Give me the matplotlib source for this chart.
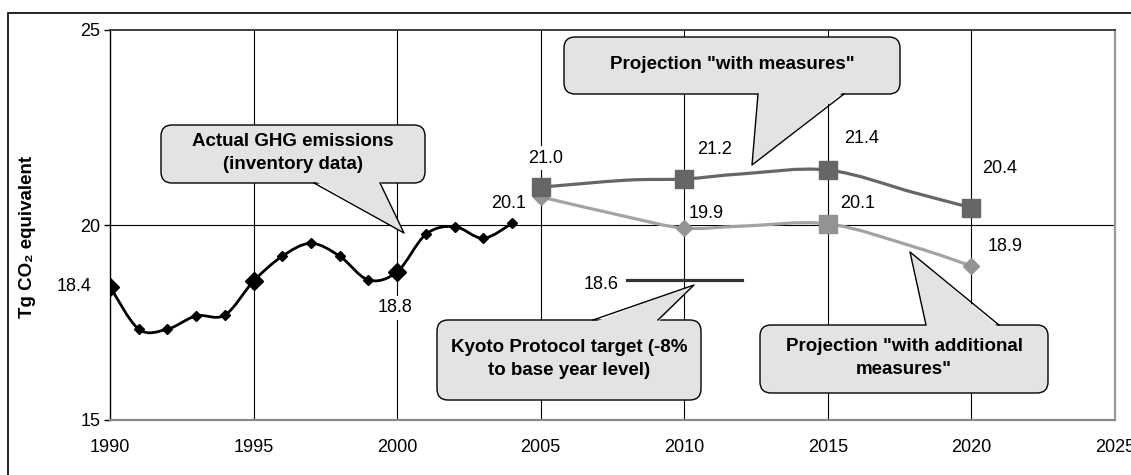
import matplotlib
matplotlib.use("Agg")
import matplotlib.pyplot as plt
import numpy as np
from matplotlib.path import Path
from matplotlib.patches import PathPatch, FancyBboxPatch, Polygon, Rectangle

plt.rcParams["font.family"] = ["Liberation Sans", "DejaVu Sans"]
plt.rcParams["font.size"] = 13

# ------------------------------------------------------------------
# Data
# ------------------------------------------------------------------
inv_years = list(range(1990, 2005))
inv_vals = [18.42, 17.33, 17.33, 17.67, 17.69, 18.56, 19.20, 19.53,
            19.20, 18.59, 18.80, 19.76, 19.96, 19.66, 20.04]
inv_big_years = [1990, 1995, 2000]

proj_years = [2005, 2008, 2010, 2012, 2015, 2018, 2020]
wm_vals = [20.97, 21.15, 21.18, 21.31, 21.41, 20.83, 20.44]    # "with measures"
wam_vals = [20.72, 20.21, 19.92, 19.97, 20.03, 19.44, 18.95]   # "with additional measures"
marker_years = [2005, 2010, 2015, 2020]
wam_markers = ["D", "D", "s", "D"]

kyoto_years = [2008, 2012]
kyoto_val = 18.6

inv_label_years = [1990, 2000, 2004]
inv_label_text = ["18.4", "18.8", "20.1"]
wm_label_text = ["21.0", "21.2", "21.4", "20.4"]
wam_label_years = [2010, 2015, 2020]
wam_label_text = ["19.9", "20.1", "18.9"]
kyoto_label_text = "18.6"

x_ticks = [1990, 1995, 2000, 2005, 2010, 2015, 2020, 2025]
y_ticks = [15, 20, 25]

# colours
C_INV = "black"
C_WM = "#666666"
C_WAM = "#a3a3a3"
C_WAM_MK = "#939393"
C_KYOTO = "#333333"
C_FILL = "#e3e3e3"


def smooth_path(xs, ys):
    """Excel-like smoothed line: Catmull-Rom through the points as cubic Beziers."""
    x = np.asarray(xs, float)
    y = np.asarray(ys, float)
    xp = np.r_[x[0], x, x[-1]]
    yp = np.r_[y[0], y, y[-1]]
    verts = [(x[0], y[0])]
    codes = [Path.MOVETO]
    for i in range(1, len(x)):
        p0 = np.array([xp[i - 1], yp[i - 1]])
        p1 = np.array([xp[i], yp[i]])
        p2 = np.array([xp[i + 1], yp[i + 1]])
        p3 = np.array([xp[i + 2], yp[i + 2]])
        c1 = p1 + (p2 - p0) / 6.0
        c2 = p2 - (p3 - p1) / 6.0
        verts += [tuple(c1), tuple(c2), tuple(p2)]
        codes += [Path.CURVE4] * 3
    return Path(verts, codes)


def pick(years, vals, sel):
    d = dict(zip(years, vals))
    return [d[s] for s in sel]


fig = plt.figure(figsize=(11.31, 4.75), dpi=100)
W, H = 1131, 475

ax = fig.add_axes([110 / W, 55 / H, 1005 / W, 390 / H])
ax.set_xlim(1990, 2025)
ax.set_ylim(15, 25)
ax.set_xticks(x_ticks)
ax.set_yticks(y_ticks)
ax.tick_params(axis="x", length=0, pad=14, labelsize=13)
ax.tick_params(axis="y", length=4, width=1, pad=3, labelsize=13)

for yr in x_ticks[1:-1]:
    ax.axvline(yr, color="black", lw=0.8, zorder=1)
ax.axhline(20, color="black", lw=0.8, zorder=1)

ax.spines["left"].set_color("black")
ax.spines["left"].set_linewidth(1.0)
ax.spines["top"].set_color("#333333")
ax.spines["top"].set_linewidth(1.3)
ax.spines["right"].set_color("#9a9a9a")
ax.spines["right"].set_linewidth(1.6)
ax.spines["bottom"].set_color("#8a8a8a")
ax.spines["bottom"].set_linewidth(1.6)

ax.set_ylabel("Tg CO\u2082 equivalent", fontsize=13.5, fontweight="bold")
ax.yaxis.set_label_coords(-0.074, 0.47)

# actual inventory
ax.add_patch(PathPatch(smooth_path(inv_years, inv_vals), fill=False,
                       ec=C_INV, lw=2.0, zorder=4, capstyle="round"))
ax.plot(inv_years, inv_vals, ls="none", marker="D", ms=5.5, color=C_INV, zorder=5)
ax.plot(inv_big_years, pick(inv_years, inv_vals, inv_big_years), ls="none",
        marker="D", ms=9, color=C_INV, zorder=5)

# projection "with additional measures" (drawn below the other one)
ax.add_patch(PathPatch(smooth_path(proj_years, wam_vals), fill=False,
                       ec=C_WAM, lw=2.3, zorder=4))
for yr, v, mk in zip(marker_years, pick(proj_years, wam_vals, marker_years), wam_markers):
    ax.plot([yr], [v], ls="none", marker=mk, ms=8.5 if mk == "D" else 12.5,
            color=C_WAM_MK, zorder=5)

# projection "with measures"
ax.add_patch(PathPatch(smooth_path(proj_years, wm_vals), fill=False,
                       ec=C_WM, lw=2.3, zorder=6))
ax.plot(marker_years, pick(proj_years, wm_vals, marker_years), ls="none",
        marker="s", ms=12.5, color=C_WM, zorder=7)

# Kyoto target
ax.plot(kyoto_years, [kyoto_val] * len(kyoto_years), color=C_KYOTO, lw=2.3, zorder=4)

# data labels
lab_kw = dict(textcoords="offset pixels", ha="center", va="center", fontsize=13,
              zorder=3, bbox=dict(boxstyle="square,pad=0.2", fc="white", ec="none"))
inv_offsets = [(-36, 0), (-2, -36), (-3, 20)]
for yr, txt, off in zip(inv_label_years, inv_label_text, inv_offsets):
    ax.annotate(txt, (yr, pick(inv_years, inv_vals, [yr])[0]), xytext=off, **lab_kw)
wm_offsets = [(5, 29), (30, 29), (34, 32), (28, 39)]
for yr, txt, off in zip(marker_years, wm_label_text, wm_offsets):
    ax.annotate(txt, (yr, pick(proj_years, wm_vals, [yr])[0]), xytext=off, **lab_kw)
wam_offsets = [(22, 15), (30, 20), (34, 19)]
for yr, txt, off in zip(wam_label_years, wam_label_text, wam_offsets):
    ax.annotate(txt, (yr, pick(proj_years, wam_vals, [yr])[0]), xytext=off, **lab_kw)
ax.annotate(kyoto_label_text, (kyoto_years[0], kyoto_val), xytext=(-26, -5), **lab_kw)

# ------------------------------------------------------------------
# Callouts, drawn on an overlay in pixel coordinates
# ------------------------------------------------------------------
ov = fig.add_axes([0, 0, 1, 1], zorder=5)
ov.set_xlim(0, W)
ov.set_ylim(H, 0)
ov.axis("off")
ov.patch.set_visible(False)


def callout(box, edge, b1, b2, tip, text):
    x0, y0, x1, y1 = box
    ov.add_patch(FancyBboxPatch((x0, y0), x1 - x0, y1 - y0,
                                boxstyle="round,pad=0,rounding_size=11",
                                fc=C_FILL, ec="black", lw=1.0, zorder=2))
    ey = y1 if edge == "bottom" else y0
    inner = ey - 2.5 if edge == "bottom" else ey + 2.5
    ov.add_patch(Polygon([(b1, inner), (b2, inner), tip], closed=True,
                         fc=C_FILL, ec="none", zorder=3))
    ov.plot([b1, tip[0], b2], [ey, tip[1], ey], color="black", lw=1.0, zorder=4)
    ov.text((x0 + x1) / 2, (y0 + y1) / 2 - 1, text, ha="center", va="center",
            fontsize=13.5, fontweight="bold", linespacing=1.4, zorder=5)


callout((161, 125, 425, 183), "bottom", 314, 380, (404, 233),
        "Actual GHG emissions\n(inventory data)")
callout((564, 37, 900, 94), "bottom", 758, 844, (752, 165),
        'Projection "with measures"')
callout((437, 320, 701, 400), "top", 593, 658, (694, 285),
        "Kyoto Protocol target (-8%\nto base year level)")
callout((760, 325, 1048, 393), "top", 926, 999, (910, 252),
        'Projection "with additional\nmeasures"')

# outer chart border (cropped at right and bottom in the original)
fig.add_artist(Rectangle((8 / W, -0.1), 2, (1 - 13 / H) + 0.1,
                         transform=fig.transFigure, fill=False, ec="black", lw=1.2))

fig.savefig("out.png", dpi=100)
